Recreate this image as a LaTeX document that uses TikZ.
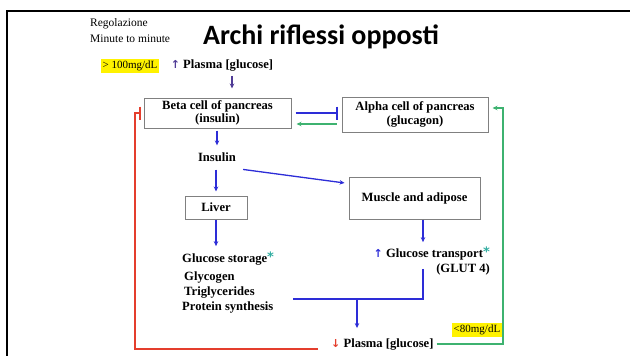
\documentclass[tikz,border=0pt]{standalone}
\usepackage{fontspec}
\setmainfont{Liberation Serif}
\newfontfamily\titlefont{Carlito}
\newfontfamily\symfont{DejaVu Sans}
\usetikzlibrary{arrows.meta,positioning,calc}

\definecolor{boxgray}{RGB}{128,128,128}
\definecolor{upviolet}{RGB}{80,60,150}
\definecolor{flowblue}{RGB}{45,45,215}
\definecolor{fbred}{RGB}{228,62,45}
\definecolor{fbgreen}{RGB}{62,178,112}
\definecolor{starteal}{RGB}{48,172,160}

\newcommand\dfont{\fontsize{12.6}{13.5}\selectfont\bfseries}
\newcommand\tstar{\textcolor{starteal}{\raisebox{1pt}{\symfont\bfseries\fontsize{13}{13}\selectfont*}}}
\newcommand\uarr[1]{\textcolor{#1}{\symfont\fontsize{11}{11}\selectfont↑}}
\newcommand\darr[1]{\textcolor{#1}{\symfont\fontsize{11}{11}\selectfont↓}}

\begin{document}
\begin{tikzpicture}[x=1pt, y=-1pt,
    cell/.style={rectangle, draw=boxgray, line width=1pt, fill=white, inner sep=0pt, align=center, font=\dfont},
    lbl/.style={inner sep=1pt, font=\dfont},
    hilite/.style={fill=yellow, inner sep=0pt, font=\fontsize{11}{11}\selectfont},
    flow/.style={-{Stealth[length=5pt, width=4.5pt]}, flowblue, line width=1.3pt},
    fline/.style={flowblue, line width=1.3pt},
    stopline/.style={-{Bar[width=13pt, line width=1.5pt]}, line width=1.3pt},
    fbarrow/.style={-{Stealth[length=5pt, width=4.5pt]}, line width=1.3pt}
]
\useasboundingbox (0,0) rectangle (630,356);

% slide frame
\draw[line width=2.5pt] (7,360) -- (7,11) -- (640,11);

% --- header ---
\node[anchor=base west, inner sep=0pt, font=\fontsize{11.5}{11.5}\selectfont] (reg) at (90,27) {Regolazione};
\node[anchor=base west, inner sep=0pt, font=\fontsize{11.5}{11.5}\selectfont] (mtm) at (90,42) {Minute to minute};
\node[anchor=base, inner sep=0pt, font=\titlefont\bfseries\fontsize{28}{28}\selectfont] (title) at (321,45) {Archi riflessi opposti};

% --- thresholds ---
\node[hilite, minimum width=58pt, minimum height=14pt] (hi) at (130,66) {> 100mg/dL};
\node[hilite, minimum width=50pt, minimum height=14pt] (lo) at (477,330) {<80mg/dL};

% --- nodes ---
\node[lbl] (plasmaTop) at (222,66) {\uarr{upviolet}\ Plasma [glucose]};
\node[cell, minimum width=147pt, minimum height=30pt] (beta) at (217.5,113) {Beta cell of pancreas\\(insulin)};
\node[cell, minimum width=146pt, minimum height=35pt] (alpha) at (415,114.5) {Alpha cell of pancreas\\(glucagon)};
\node[lbl] (insulin) at (217,157) {Insulin};
\node[cell, minimum width=62pt, minimum height=23pt] (liver) at (216,207.5) {Liver};
\node[cell, minimum width=131pt, minimum height=42pt] (muscle) at (414.5,198) {Muscle and adipose};

\node[lbl, anchor=base west] (storage) at (181,262) {Glucose storage\tstar};
\node[lbl, anchor=base west] (glycogen) at (183,280) {Glycogen};
\node[lbl, anchor=base west] (trig) at (183,295) {Triglycerides};
\node[lbl, anchor=base west] (protein) at (181,310) {Protein synthesis};

\node[lbl, anchor=base east] (transport) at (491,257) {\uarr{flowblue}\ Glucose transport\tstar};
\node[lbl, anchor=base east] (glut) at (491,272) {(GLUT 4)};

\node[lbl, anchor=base west] (plasmaLow) at (330,347) {\darr{fbred}\ Plasma [glucose]};

% helper points
\coordinate (trX) at (423,0);
\coordinate (jn) at (357,299);
\coordinate (mL) at (293,299);
\coordinate (rX) at (135,200);
\coordinate (gX) at (503,200);
\coordinate (gA) at ([yshift=-9.5pt]alpha.west);
\coordinate (gB) at ([yshift=6.5pt]alpha.east);

% --- connectors ---
\draw[flow, upviolet, shorten <=3pt, shorten >=9pt] ([xshift=10pt]plasmaTop.south) -- ([xshift=10pt]plasmaTop.south |- beta.north);
\draw[flow, shorten <=2pt, shorten >=6pt] (beta.south -| insulin.north) -- (insulin.north);
\draw[flow, shorten <=7pt, shorten >=4pt] (insulin.south -| liver.north) -- (liver.north);
\draw[flow, shorten <=6pt, shorten >=4pt] ([yshift=-6pt]insulin.south east) -- ([yshift=-7pt]muscle.north west);
\draw[flow, shorten >=4pt] (liver.south) -- (liver.south |- storage.north);
\draw[flow, shorten >=3pt] (muscle.south -| trX) -- (trX |- transport.north);

% merge into plasma
\draw[fline] (trX |- glut.west) |- (mL);
\draw[flow, shorten >=9pt] (jn) -- (jn |- plasmaLow.north);

% pancreas cross talk
\draw[stopline, flowblue, shorten <=4pt, shorten >=4pt] (beta.east) -- (beta.east -| alpha.west);
\draw[fbarrow, fbgreen, shorten <=5pt, shorten >=5pt] (gA) -- (gA -| beta.east);

% feedback loops
\draw[stopline, fbred, shorten <=12pt, shorten >=3pt] ([yshift=-5pt]plasmaLow.west) -| (rX) |- (beta.west);
\draw[fbarrow, fbgreen, shorten <=2pt, shorten >=4pt] (plasmaLow.east) -| (gX) |- (gB);

\end{tikzpicture}
\end{document}
